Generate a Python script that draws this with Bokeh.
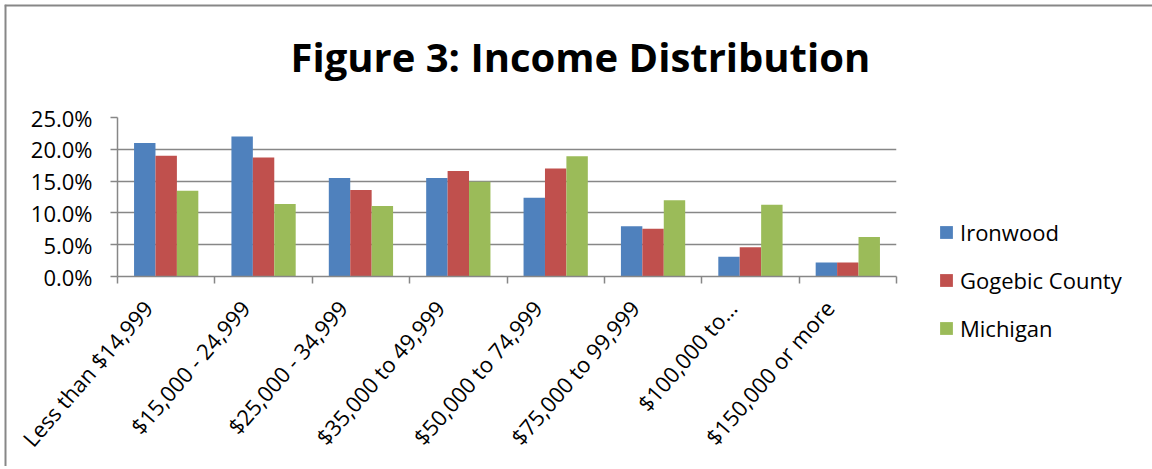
import math
from bokeh.plotting import figure
from bokeh.models import (ColumnDataSource, FixedTicker, Label, Legend, LegendItem,
                          Range1d, Span)
from bokeh.embed import file_html
from bokeh.resources import INLINE

categories = ["Less than $14,999", "$15,000 - 24,999", "$25,000 - 34,999",
              "$35,000 to 49,999", "$50,000 to 74,999", "$75,000 to 99,999",
              "$100,000 to\u2026", "$150,000 or more"]
ironwood = [21.0, 22.0, 15.5, 15.5, 12.4, 7.9, 3.1, 2.2]
gogebic = [19.0, 18.7, 13.6, 16.6, 17.0, 7.5, 4.6, 2.2]
michigan = [13.5, 11.4, 11.1, 14.9, 18.9, 12.0, 11.3, 6.2]
series_names = ["Ironwood", "Gogebic County", "Michigan"]
series_values = [ironwood, gogebic, michigan]
colors = ["#4F81BD", "#C0504D", "#9BBB59"]
y_ticks = [0, 5, 10, 15, 20, 25]
y_tick_labels = ["0.0%", "5.0%", "10.0%", "15.0%", "20.0%", "25.0%"]
title_text = "Figure 3: Income Distribution"

FONT = "Open Sans"
GRAY = "#878787"

# ---- background sheet: chart-area border, title and legend ----
bg = figure(width=1148, height=462, output_backend="svg", toolbar_location=None,
            x_range=Range1d(0, 1), y_range=Range1d(0, 1),
            x_axis_location=None, y_axis_location=None,
            min_border_left=0, min_border_right=0, min_border_top=0,
            min_border_bottom=0, outline_line_color=None,
            background_fill_color="white", border_fill_color="white")
bg.grid.visible = False
bg.styles = {"margin-left": "4px", "margin-top": "4px"}
bg.add_layout(Span(location=0, dimension="height", line_color=GRAY, line_width=4))
bg.add_layout(Span(location=1, dimension="width", line_color=GRAY, line_width=4))

bg.add_layout(Label(x=286, y=410, x_units="screen", y_units="screen",
                    text=title_text, text_font=FONT, text_font_size="40px",
                    text_font_style="bold", text_color="black",
                    text_baseline="alphabetic", text_align="left"))

items = []
for name, col in zip(series_names, colors):
    # legend swatch proxies (no visible marks)
    r = bg.vbar(x=[float("nan")], top=[float("nan")], width=0.1,
                fill_color=col, line_color=None)
    items.append(LegendItem(label=name, renderers=[r]))
legend = Legend(items=items, location=(934, 123), padding=0, margin=0,
                border_line_color=None, background_fill_alpha=0,
                glyph_width=16, glyph_height=16, label_standoff=6,
                label_height=30, spacing=18, label_text_font=FONT,
                label_text_font_size="22px", label_text_color="black")
bg.add_layout(legend, "center")

# ---- main chart (transparent margins, laid over the sheet) ----
p = figure(width=894, height=460, output_backend="svg", toolbar_location=None,
           x_range=Range1d(0, len(categories)), y_range=Range1d(0, 25),
           min_border_left=111, min_border_right=4, min_border_top=111,
           min_border_bottom=190, outline_line_color=None,
           background_fill_color="white", border_fill_alpha=0)
p.styles = {"position": "absolute", "left": "6px", "top": "6px"}

bar_w = 0.22
offsets = [-0.22, 0.0, 0.22]
for name, vals, col, off in zip(series_names, series_values, colors, offsets):
    src = ColumnDataSource(dict(x=[i + 0.5 + off for i in range(len(categories))],
                                top=vals))
    p.vbar(x="x", top="top", width=bar_w, bottom=0, source=src,
           fill_color=col, line_color=None)

p.xgrid.visible = False
p.ygrid.grid_line_color = GRAY
p.ygrid.grid_line_width = 1.5
p.ygrid.ticker = FixedTicker(ticks=y_ticks)

ya = p.yaxis[0]
ya.ticker = FixedTicker(ticks=y_ticks)
ya.major_label_overrides = {float(v): s for v, s in zip(y_ticks, y_tick_labels)}
ya.axis_line_color = GRAY
ya.axis_line_width = 1.5
ya.major_tick_line_color = GRAY
ya.major_tick_line_width = 1.5
ya.major_tick_out = 7
ya.major_tick_in = 0
ya.minor_tick_line_color = None
ya.major_label_standoff = 18
ya.major_label_text_font = FONT
ya.major_label_text_font_size = "22px"
ya.major_label_text_color = "black"

label_shift = 0.19  # labels hang slightly left of the category centre
xa = p.xaxis[0]
xa.ticker = FixedTicker(ticks=[i + 0.5 - label_shift for i in range(len(categories))],
                        minor_ticks=list(range(len(categories) + 1)))
xa.major_label_overrides = {i + 0.5 - label_shift: c for i, c in enumerate(categories)}
xa.axis_line_color = GRAY
xa.axis_line_width = 1.5
xa.major_tick_line_color = None
xa.minor_tick_line_color = GRAY
xa.minor_tick_line_width = 1.5
xa.minor_tick_out = 7
xa.minor_tick_in = 0
xa.major_label_orientation = 0.855
xa.major_label_standoff = 20
xa.major_label_text_font = FONT
xa.major_label_text_font_size = "22px"
xa.major_label_text_color = "black"

open("out.html", "w").write(file_html([bg, p], INLINE))
